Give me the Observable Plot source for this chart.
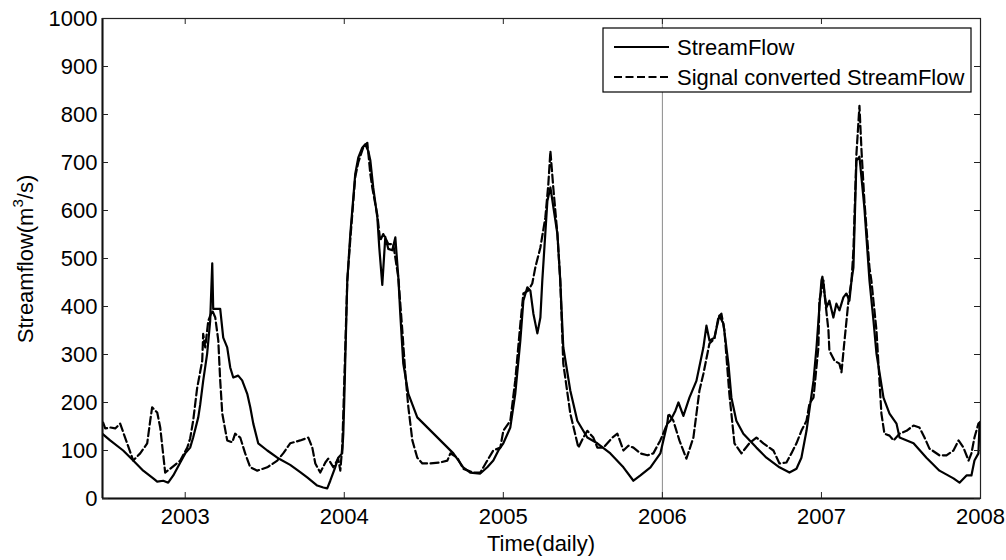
<!DOCTYPE html>
<html><head><meta charset="utf-8">
<script src="https://cdn.jsdelivr.net/npm/d3@7"></script>
<script src="https://cdn.jsdelivr.net/npm/@observablehq/plot@0.6"></script>
<style>
body{margin:0;background:#fff;}
#chart{position:relative;width:1006px;height:560px;}
</style>
</head><body><div id="chart"></div>
<script>
const seriesNames = ["StreamFlow", "Signal converted StreamFlow"];
const xTicks = [2003, 2004, 2005, 2006, 2007, 2008];
const yTicks = [0, 100, 200, 300, 400, 500, 600, 700, 800, 900, 1000];
const xDomain = [2002.48, 2008];
const yDomain = [0, 1000];
const markerYear = [2006];

const streamYears = [
2002.478,2002.528,2002.610,2002.673,2002.736,2002.799,2002.824,2002.862,2002.893,2002.925,2002.969,
2003.000,2003.031,2003.050,2003.082,2003.094,2003.113,2003.138,2003.157,2003.170,2003.176,2003.220,
2003.239,2003.264,2003.283,2003.302,2003.333,2003.358,2003.390,2003.409,2003.428,2003.459,2003.516,
2003.579,2003.660,2003.723,2003.767,2003.830,2003.868,2003.893,2003.912,2003.943,2003.962,2003.987,
2003.994,2004.000,2004.019,2004.038,2004.069,2004.088,2004.113,2004.132,2004.151,2004.164,2004.182,
2004.208,2004.220,2004.239,2004.258,2004.277,2004.302,2004.321,2004.340,2004.352,2004.371,2004.403,
2004.459,2004.686,2004.748,2004.792,2004.855,2004.899,2004.937,2004.969,2005.000,2005.044,2005.075,
2005.107,2005.126,2005.151,2005.170,2005.189,2005.214,2005.233,2005.245,2005.277,2005.296,2005.340,
2005.358,2005.377,2005.421,2005.465,2005.528,2005.591,2005.673,2005.755,2005.818,2005.862,2005.925,
2005.987,2006.031,2006.050,2006.082,2006.101,2006.132,2006.170,2006.214,2006.258,2006.277,2006.296,
2006.327,2006.358,2006.384,2006.415,2006.434,2006.465,2006.509,2006.591,2006.654,2006.736,2006.799,
2006.843,2006.874,2006.906,2006.950,2006.969,2006.987,2007.000,2007.006,2007.031,2007.050,2007.075,
2007.094,2007.113,2007.138,2007.157,2007.176,2007.189,2007.201,2007.220,2007.239,2007.270,2007.302,
2007.327,2007.346,2007.390,2007.428,2007.472,2007.491,2007.579,2007.660,2007.742,2007.830,2007.868,
2007.912,2007.943,2007.962,2007.987,2007.994,2008.000];
const streamValues = [
135,121,100,79,58,42,35,37,33,48,75,
94,106,127,169,195,245,302,370,490,395,395,
335,315,273,252,256,246,218,190,156,115,100,
85,70,55,44,27,23,21,37,65,85,94,
135,204,454,551,676,710,731,738,724,704,648,
585,523,445,545,520,517,544,460,385,281,218,
169,94,65,54,52,65,79,100,115,148,218,
329,412,440,433,385,344,377,454,620,648,551,
454,315,225,162,127,115,94,65,37,48,65,
94,156,162,183,200,172,210,245,315,360,329,
335,381,364,281,210,162,135,106,85,65,54,
62,85,141,245,315,398,454,462,398,412,377,
406,392,419,427,412,454,481,704,712,606,454,
371,302,210,177,156,127,115,85,58,42,33,
48,48,79,94,156,160];

const signalYears = [
2002.484,2002.497,2002.528,2002.560,2002.591,2002.635,2002.673,2002.717,2002.761,2002.780,2002.792,
2002.824,2002.843,2002.874,2002.906,2002.969,2003.013,2003.031,2003.050,2003.075,2003.107,2003.113,
2003.126,2003.145,2003.170,2003.189,2003.208,2003.220,2003.233,2003.264,2003.296,2003.314,2003.346,
2003.377,2003.409,2003.453,2003.516,2003.579,2003.616,2003.660,2003.723,2003.774,2003.799,2003.818,
2003.849,2003.881,2003.899,2003.931,2003.962,2003.975,2003.987,2003.994,2004.019,2004.038,2004.069,
2004.088,2004.119,2004.145,2004.164,2004.176,2004.208,2004.226,2004.245,2004.277,2004.308,2004.340,
2004.365,2004.384,2004.403,2004.428,2004.459,2004.491,2004.541,2004.604,2004.648,2004.667,2004.711,
2004.748,2004.811,2004.855,2004.899,2004.937,2004.981,2005.000,2005.044,2005.075,2005.107,2005.126,
2005.157,2005.182,2005.201,2005.233,2005.264,2005.283,2005.296,2005.314,2005.340,2005.358,2005.377,
2005.421,2005.472,2005.503,2005.528,2005.566,2005.591,2005.629,2005.686,2005.717,2005.755,2005.786,
2005.818,2005.862,2005.906,2005.943,2005.987,2006.031,2006.038,2006.069,2006.107,2006.151,2006.195,
2006.233,2006.258,2006.296,2006.327,2006.352,2006.371,2006.390,2006.421,2006.453,2006.497,2006.547,
2006.591,2006.635,2006.698,2006.736,2006.780,2006.811,2006.843,2006.874,2006.906,2006.925,2006.950,
2006.981,2006.987,2007.013,2007.019,2007.044,2007.050,2007.082,2007.113,2007.126,2007.145,2007.170,
2007.189,2007.201,2007.220,2007.239,2007.252,2007.270,2007.302,2007.314,2007.346,2007.377,2007.396,
2007.428,2007.453,2007.491,2007.535,2007.579,2007.616,2007.648,2007.679,2007.742,2007.786,2007.830,
2007.862,2007.893,2007.925,2007.943,2007.962,2007.987,2008.000];
const signalValues = [
158,146,148,146,156,115,79,94,115,162,190,
179,148,54,62,79,106,125,162,230,287,343,
315,370,392,377,329,246,177,121,117,135,127,
94,65,58,65,79,94,115,121,127,106,73,
54,75,83,65,83,58,106,177,454,540,670,
700,731,741,676,648,590,537,551,530,530,460,
350,260,190,121,85,73,73,75,79,94,85,
62,54,54,79,100,106,141,162,246,364,427,
433,448,481,523,585,655,724,648,551,454,281,
177,106,127,141,127,106,106,127,135,100,110,
106,94,90,94,121,156,177,162,121,83,127,
225,260,323,333,377,385,350,218,115,94,115,
127,115,100,73,75,94,115,141,162,198,210,
315,412,454,427,350,308,287,281,263,329,412,
454,517,718,818,724,620,481,454,350,177,135,
131,121,135,141,152,148,127,104,90,90,100,
121,106,79,94,127,156,160];

const stream = streamYears.map((t, i) => ({year: t, value: streamValues[i], series: seriesNames[0]}));
const signal = signalYears.map((t, i) => ({year: t, value: signalValues[i], series: seriesNames[1]}));

const W = 1006, H = 560, mL = 102, mR = 26, mT = 18, mB = 62;
const pw = W - mL - mR, ph = H - mT - mB;
const FONT = "'Liberation Sans', Arial, Helvetica, sans-serif";
const FS = 22;
const dash = "8,3.5";

const chart = Plot.plot({
  width: W, height: H,
  marginLeft: mL, marginRight: mR, marginTop: mT, marginBottom: mB,
  style: {fontFamily: FONT, fontSize: FS + "px", color: "black", background: "white"},
  x: {type: "linear", domain: xDomain},
  y: {type: "linear", domain: yDomain},
  marks: [
    Plot.ruleX(markerYear, {stroke: "#8a8a8a", strokeWidth: 1}),
    Plot.line(stream, {x: "year", y: "value", stroke: "black", strokeWidth: 2.2, clip: true}),
    Plot.line(signal, {x: "year", y: "value", stroke: "black", strokeWidth: 2.2, strokeDasharray: dash, clip: true}),
    Plot.frame({stroke: "#222", strokeWidth: 1.2}),
    Plot.ruleY([yDomain[0]], {stroke: "#111", strokeWidth: 2}),
    Plot.ruleX([xDomain[0]], {stroke: "#111", strokeWidth: 2}),
    Plot.tickX(xTicks, {x: d => d, insetTop: ph - 6, stroke: "#222", strokeWidth: 1}),
    Plot.tickX(xTicks, {x: d => d, insetBottom: ph - 6, stroke: "#222", strokeWidth: 1}),
    Plot.tickY(yTicks, {y: d => d, insetRight: pw - 6, stroke: "#222", strokeWidth: 1}),
    Plot.tickY(yTicks, {y: d => d, insetLeft: pw - 6, stroke: "#222", strokeWidth: 1}),
    Plot.axisX(xTicks, {tickSize: 0, tickPadding: 10, tickFormat: d => String(d), label: null}),
    Plot.axisY(yTicks, {tickSize: 0, tickPadding: 5, tickFormat: d => String(d), label: null})
  ]
});

document.getElementById("chart").appendChild(chart);

const svg = d3.select(chart);
// axis titles
const yl = svg.append("text")
  .attr("transform", `translate(33, ${mT + ph / 2 + 1}) rotate(-90)`)
  .attr("text-anchor", "middle")
  .attr("font-family", FONT).attr("font-size", FS).attr("fill", "black");
yl.append("tspan").text("Streamflow(m");
yl.append("tspan").text("3").attr("font-size", 15).attr("dy", -10);
yl.append("tspan").text("/s)").attr("dy", 10);

svg.append("text")
  .attr("x", mL + pw / 2).attr("y", 551)
  .attr("text-anchor", "middle")
  .attr("font-family", FONT).attr("font-size", FS).attr("fill", "black")
  .text("Time(daily)");

// legend
const lg = svg.append("g").attr("text-anchor", "start");
lg.append("rect").attr("x", 603).attr("y", 28).attr("width", 368).attr("height", 64)
  .attr("fill", "white").attr("stroke", "black").attr("stroke-width", 1.2);
const rows = [{y: 47, dash: null}, {y: 77, dash: dash}];
rows.forEach((r, i) => {
  const ln = lg.append("line").attr("x1", 614).attr("x2", 669).attr("y1", r.y).attr("y2", r.y)
    .attr("stroke", "black").attr("stroke-width", 2.2);
  if (r.dash) ln.attr("stroke-dasharray", r.dash);
  lg.append("text").attr("x", 677).attr("y", r.y + 7.5)
    .attr("text-anchor", "start")
    .attr("font-family", FONT).attr("font-size", FS).attr("fill", "black")
    .text(seriesNames[i]);
});
</script>
</body></html>
